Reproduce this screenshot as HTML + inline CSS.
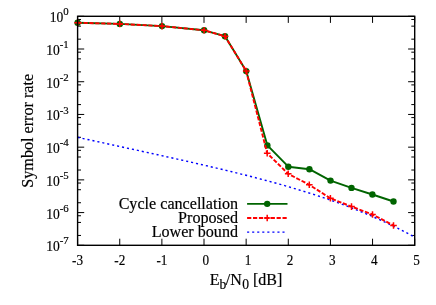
<!DOCTYPE html>
<html><head><meta charset="utf-8"><title>plot</title>
<style>html,body{margin:0;padding:0;background:#fff;overflow:hidden;width:436px;height:305px;}svg{display:block;position:absolute;left:0;top:0;}text{font-family:"Liberation Serif",serif;fill:#000;stroke:#000;stroke-width:0.18px;}g.t{filter:grayscale(1);}</style>
</head><body>
<svg width="436" height="305" viewBox="0 0 436 305">
<rect x="0" y="0" width="436" height="305" fill="#fff"/>
<path d="M77.60 16.30h6.6M414.70 16.30h-6.6M77.60 39.17h3.4M414.70 39.17h-3.4M77.60 26.15h3.4M414.70 26.15h-3.4M77.60 19.47h3.4M414.70 19.47h-3.4M77.60 49.01h6.6M414.70 49.01h-6.6M77.60 71.88h3.4M414.70 71.88h-3.4M77.60 58.86h3.4M414.70 58.86h-3.4M77.60 52.18h3.4M414.70 52.18h-3.4M77.60 81.73h6.6M414.70 81.73h-6.6M77.60 104.59h3.4M414.70 104.59h-3.4M77.60 91.58h3.4M414.70 91.58h-3.4M77.60 84.90h3.4M414.70 84.90h-3.4M77.60 114.44h6.6M414.70 114.44h-6.6M77.60 137.31h3.4M414.70 137.31h-3.4M77.60 124.29h3.4M414.70 124.29h-3.4M77.60 117.61h3.4M414.70 117.61h-3.4M77.60 147.16h6.6M414.70 147.16h-6.6M77.60 170.02h3.4M414.70 170.02h-3.4M77.60 157.01h3.4M414.70 157.01h-3.4M77.60 150.33h3.4M414.70 150.33h-3.4M77.60 179.87h6.6M414.70 179.87h-6.6M77.60 202.74h3.4M414.70 202.74h-3.4M77.60 189.72h3.4M414.70 189.72h-3.4M77.60 183.04h3.4M414.70 183.04h-3.4M77.60 212.59h6.6M414.70 212.59h-6.6M77.60 235.45h3.4M414.70 235.45h-3.4M77.60 222.43h3.4M414.70 222.43h-3.4M77.60 215.76h3.4M414.70 215.76h-3.4M77.60 245.30h6.6M414.70 245.30h-6.6M77.60 245.30v-6.6M77.60 16.30v6.6M119.74 245.30v-6.6M119.74 16.30v6.6M161.88 245.30v-6.6M161.88 16.30v6.6M204.01 245.30v-6.6M204.01 16.30v6.6M246.15 245.30v-6.6M246.15 16.30v6.6M288.29 245.30v-6.6M288.29 16.30v6.6M330.43 245.30v-6.6M330.43 16.30v6.6M372.56 245.30v-6.6M372.56 16.30v6.6M414.70 245.30v-6.6M414.70 16.30v6.6" stroke="#000" stroke-width="1" fill="none"/>
<polyline points="77.6,137.3 83.3,138.6 89.0,139.8 94.7,141.0 100.5,142.3 106.2,143.5 111.9,144.8 117.6,146.0 123.3,147.3 129.0,148.5 134.7,149.7 140.4,151.0 146.2,152.2 151.9,153.5 157.6,154.7 163.3,156.0 169.0,157.3 174.7,158.5 180.4,159.8 186.2,161.1 191.9,162.4 197.6,163.7 203.3,165.0 209.0,166.3 214.7,167.7 220.4,169.0 226.2,170.4 231.9,171.8 237.6,173.2 243.3,174.6 249.0,176.0 254.7,177.5 260.4,179.0 266.1,180.5 271.9,182.1 277.6,183.6 283.3,185.2 289.0,186.9 294.7,188.6 300.4,190.3 306.1,192.1 311.9,193.9 317.6,195.7 323.3,197.7 329.0,199.6 334.7,201.6 340.4,203.7 346.1,205.8 351.9,208.0 357.6,210.3 363.3,212.6 369.0,215.0 374.7,217.5 380.4,220.0 386.1,222.7 391.8,225.4 397.6,228.2 403.3,231.1 409.0,234.1 414.7,237.2" fill="none" stroke="#0000ff" stroke-width="1.4" stroke-dasharray="2.1 2.95"/>
<polyline points="77.6,22.75 119.8,23.9 162.0,26.1 204.1,30.3 225.0,36.2 246.2,71.1 267.4,145.4 288.3,166.7 309.4,169.2 330.5,180.6 351.5,187.9 372.4,194.5 393.5,201.5" fill="none" stroke="#006400" stroke-width="1.9" stroke-linejoin="round"/>
<circle cx="77.6" cy="22.75" r="3.2" fill="#006400"/>
<circle cx="119.8" cy="23.9" r="3.2" fill="#006400"/>
<circle cx="162.0" cy="26.1" r="3.2" fill="#006400"/>
<circle cx="204.1" cy="30.3" r="3.2" fill="#006400"/>
<circle cx="225.0" cy="36.2" r="3.2" fill="#006400"/>
<circle cx="246.2" cy="71.1" r="3.2" fill="#006400"/>
<circle cx="267.4" cy="145.4" r="3.2" fill="#006400"/>
<circle cx="288.3" cy="166.7" r="3.2" fill="#006400"/>
<circle cx="309.4" cy="169.2" r="3.2" fill="#006400"/>
<circle cx="330.5" cy="180.6" r="3.2" fill="#006400"/>
<circle cx="351.5" cy="187.9" r="3.2" fill="#006400"/>
<circle cx="372.4" cy="194.5" r="3.2" fill="#006400"/>
<circle cx="393.5" cy="201.5" r="3.2" fill="#006400"/>
<polyline points="77.6,22.75 119.8,23.9 162.0,26.1 204.1,30.3 225.0,36.2 246.2,71.1 267.2,153.3 288.2,173.8 309.3,184.8 330.4,198.3 351.5,206.6 372.5,214.5 393.5,225.45" fill="none" stroke="#ff0000" stroke-width="1.9" stroke-dasharray="4.2 1.7" stroke-linejoin="round"/>
<path d="M74.30 22.75h6.6M77.6 19.45v6.6M116.50 23.9h6.6M119.8 20.60v6.6M158.70 26.1h6.6M162.0 22.80v6.6M200.80 30.3h6.6M204.1 27.00v6.6M221.70 36.2h6.6M225.0 32.90v6.6M242.90 71.1h6.6M246.2 67.80v6.6M263.90 153.3h6.6M267.2 150.00v6.6M284.90 173.8h6.6M288.2 170.50v6.6M306.00 184.8h6.6M309.3 181.50v6.6M327.10 198.3h6.6M330.4 195.00v6.6M348.20 206.6h6.6M351.5 203.30v6.6M369.20 214.5h6.6M372.5 211.20v6.6M390.20 225.45h6.6M393.5 222.15v6.6" stroke="#ff0000" stroke-width="1.5" fill="none"/>
<rect x="77.6" y="16.3" width="337.10" height="229.00" fill="none" stroke="#000" stroke-width="1.4"/>
<g class="t">
<text transform="translate(68.8,22.30) scale(0.955,1)" text-anchor="end" font-size="14.2">10<tspan font-size="11.4" dy="-6.9">0</tspan></text>
<text transform="translate(68.8,55.01) scale(0.955,1)" text-anchor="end" font-size="14.2">10<tspan font-size="11.4" dy="-6.9">-1</tspan></text>
<text transform="translate(68.8,87.73) scale(0.955,1)" text-anchor="end" font-size="14.2">10<tspan font-size="11.4" dy="-6.9">-2</tspan></text>
<text transform="translate(68.8,120.44) scale(0.955,1)" text-anchor="end" font-size="14.2">10<tspan font-size="11.4" dy="-6.9">-3</tspan></text>
<text transform="translate(68.8,153.16) scale(0.955,1)" text-anchor="end" font-size="14.2">10<tspan font-size="11.4" dy="-6.9">-4</tspan></text>
<text transform="translate(68.8,185.87) scale(0.955,1)" text-anchor="end" font-size="14.2">10<tspan font-size="11.4" dy="-6.9">-5</tspan></text>
<text transform="translate(68.8,218.59) scale(0.955,1)" text-anchor="end" font-size="14.2">10<tspan font-size="11.4" dy="-6.9">-6</tspan></text>
<text transform="translate(68.8,251.30) scale(0.955,1)" text-anchor="end" font-size="14.2">10<tspan font-size="11.4" dy="-6.9">-7</tspan></text>
<text transform="translate(77.60,264.5) scale(0.955,1)" text-anchor="middle" font-size="13.8">-3</text>
<text transform="translate(119.74,264.5) scale(0.955,1)" text-anchor="middle" font-size="13.8">-2</text>
<text transform="translate(161.88,264.5) scale(0.955,1)" text-anchor="middle" font-size="13.8">-1</text>
<text transform="translate(205.81,264.5) scale(0.955,1)" text-anchor="middle" font-size="13.8">0</text>
<text transform="translate(247.95,264.5) scale(0.955,1)" text-anchor="middle" font-size="13.8">1</text>
<text transform="translate(290.09,264.5) scale(0.955,1)" text-anchor="middle" font-size="13.8">2</text>
<text transform="translate(332.23,264.5) scale(0.955,1)" text-anchor="middle" font-size="13.8">3</text>
<text transform="translate(374.36,264.5) scale(0.955,1)" text-anchor="middle" font-size="13.8">4</text>
<text transform="translate(416.50,264.5) scale(0.955,1)" text-anchor="middle" font-size="13.8">5</text>
<text x="246" y="285.0" text-anchor="middle" font-size="16.0">E<tspan font-size="13.6" dy="3.7">b</tspan><tspan dy="-3.7" dx="-0.5">/N</tspan><tspan font-size="13.6" dy="3.7" dx="0.3">0</tspan><tspan dy="-3.7"> [dB]</tspan></text>
<text transform="translate(33.35,130.8) rotate(-90)" text-anchor="middle" font-size="16.15">Symbol error rate</text>
<text x="238.05" y="208.85" text-anchor="end" font-size="16.12">Cycle cancellation</text>
<text x="238.05" y="223.45" text-anchor="end" font-size="16.12">Proposed</text>
<text x="238.05" y="236.6" text-anchor="end" font-size="16.12">Lower bound</text>
</g>
<path d="M247.1 203.85H287.5" stroke="#006400" stroke-width="1.9"/><circle cx="267.2" cy="203.85" r="3.2" fill="#006400"/>
<path d="M247.1 218H287.5" stroke="#ff0000" stroke-width="1.9" stroke-dasharray="4.2 1.7"/>
<path d="M263.9 218h6.6M267.2 214.7v6.6" stroke="#ff0000" stroke-width="1.5"/>
<path d="M247.1 232.15H285" stroke="#0000ff" stroke-width="1.4" stroke-dasharray="2.1 2.95"/>
</svg></body></html>
